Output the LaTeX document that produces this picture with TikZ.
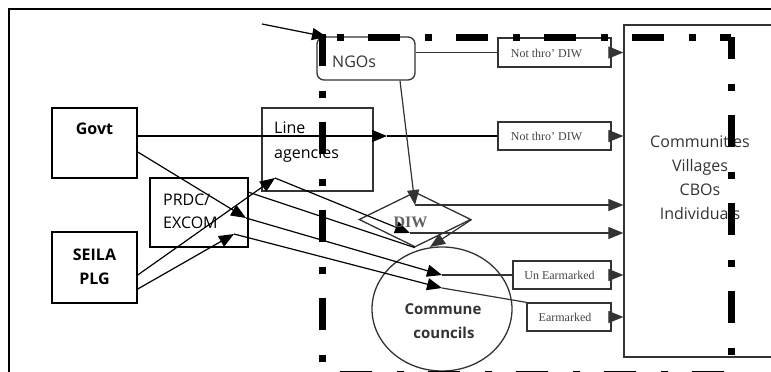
\documentclass[tikz,border=0pt]{standalone}
\usepackage{fontspec}
\setmainfont{Liberation Serif}
\newfontfamily\comic{Open Sans}
\usetikzlibrary{arrows.meta,shapes.geometric,calc}
\definecolor{ink}{HTML}{000000}
\definecolor{dk}{HTML}{333333}
\definecolor{tx}{HTML}{444444}
\begin{document}
\begin{tikzpicture}[x=1pt,y=-1pt,
  box/.style={draw=ink,line width=1.5pt,inner sep=0pt},
  gbox/.style={draw=dk,line width=1.3pt,inner sep=0pt},
  arr/.style={-{Triangle[length=15pt,width=12pt]},line width=1.2pt},
  garr/.style={arr,draw=dk,fill=dk},
  lbl/.style={font=\comic\fontsize{16}{19}\selectfont,inner sep=0pt,anchor=base},
  lblw/.style={lbl,anchor=base west},
  blbl/.style={font=\comic\bfseries\fontsize{16}{19}\selectfont,inner sep=0pt,anchor=base},
  slbl/.style={font=\fontsize{12}{14}\selectfont,text=tx,inner sep=0pt,anchor=base},
  dd/.style={line width=7pt,draw=ink,dash pattern=on 32pt off 25pt on 7pt off 24pt}]
\useasboundingbox (0,0) rectangle (771,372);
\clip (0,0) rectangle (771,372);
% outer frame
\draw[line width=1.5pt] (9,380) -- (9,9) -- (780,9);
% boxes
\node[box,minimum width=85pt,minimum height=70pt] (govt) at (94.5,143) {};
\node[box,minimum width=85pt,minimum height=71pt] (seila) at (94.5,267.5) {};
\node[box,minimum width=98pt,minimum height=69pt] (prdc) at (199,212.5) {};
\node[gbox,minimum width=111pt,minimum height=83pt] (line) at (317.5,149.5) {};
\node[gbox,rounded corners=7pt,minimum width=98pt,minimum height=43pt] (ngo) at (366,58.5) {};
\node[gbox,minimum width=113pt,minimum height=29pt] (ntd1) at (554.5,52.5) {};
\node[gbox,minimum width=113pt,minimum height=28pt] (ntd2) at (554.5,136) {};
\node[gbox,minimum width=98pt,minimum height=28pt] (une) at (562,275) {};
\node[gbox,minimum width=84pt,minimum height=28pt] (ear) at (569,317) {};
\node[gbox,minimum width=156pt,minimum height=332pt] (comm) at (702,191) {};
\node[gbox,diamond,minimum width=112pt,minimum height=55pt] (diw) at (415,219.5) {};
\node[gbox,ellipse,minimum width=140pt,minimum height=124pt] (cc) at (442,309) {};
% connection points
\coordinate (free) at (262,24);
\coordinate (tNgo) at (327,37);
\coordinate (g1) at (387,136);
\coordinate (tA) at (275,178);
\coordinate (tG) at (246,218);
\coordinate (tS) at (234,234);
\coordinate (pB) at (248,192);
\coordinate (tD1) at (415,205);
\coordinate (tD2) at (410,233);
\coordinate (tC1) at (442,275);
\coordinate (tC2) at (442,288);
\coordinate (tCC) at (430,247);
% connectors
\draw[arr] (free) -- (tNgo);
\draw[gbox] (ntd1.west -| ngo.east) -- (ntd1.west);
\draw[garr] (ntd1.east) -- (ntd1.east -| comm.west);
\draw[arr] (ntd2.west -| govt.east) -- (g1);
\draw[line width=1.2pt] (g1) -- (ntd2.west);
\draw[garr] (ntd2.east) -- (ntd2.east -| comm.west);
\draw[arr] ($(govt.east)+(0,9)$) -- (tG);
\draw[arr] ($(seila.east)+(0,7.5)$) -- (tA);
\draw[arr] ($(seila.east)+(0,21.5)$) -- (tS);
\draw[arr] (tA) -- (tD2);
\draw[line width=1.2pt] (pB) -- (diw.south);
\draw[arr] (tG) -- (tC1);
\draw[arr] (tS) -- (tC2);
\draw[garr] ($(ngo.south)+(34,0)$) -- (tD1);
\draw[garr] (tD1) -- (tD1 -| comm.west);
\draw[garr] (tD2) -- (tD2 -| comm.west);
\draw[garr] (diw.east) -- (tCC);
\draw[draw=dk,line width=1.2pt] (tC1) -- (une.west);
\draw[garr] (une.east) -- (une.east -| comm.west);
\draw[draw=dk,line width=1.2pt] (tC2) -- (ear.north west);
\draw[garr] (ear.east) -- (ear.east -| comm.west);
% texts
\node[blbl] (govtT) at (94.5,134) {Govt};
\node[blbl] (seilaT) at (94.5,260) {SEILA};
\node[blbl] (plgT) at (94.5,284) {PLG};
\node[lblw] (prdcT) at (163,205) {PRDC/};
\node[lblw] (excomT) at (163,228) {EXCOM};
\node[lblw] (lineT) at (274,133) {Line};
\node[lblw] (agT) at (274,158) {agencies};
\node[lblw,text=dk] (ngoT) at (332,67) {NGOs};
\node[slbl] (ntd1T) at (546.5,57) {Not thro’ DIW};
\node[slbl] (ntd2T) at (546.5,140.5) {Not thro’ DIW};
\node[slbl] (uneT) at (559.5,279.5) {Un Earmarked};
\node[slbl] (earT) at (565,321.5) {Earmarked};
\node[font=\bfseries\fontsize{16}{18}\selectfont,text=tx!85,inner sep=0pt,anchor=base] (diwT) at (410.5,227) {DIW};
\node[blbl,text=dk,font=\comic\bfseries\fontsize{15}{18}\selectfont] (ccT1) at (443,314) {Commune};
\node[blbl,text=dk,font=\comic\bfseries\fontsize{15}{18}\selectfont] (ccT2) at (444,338) {councils};
\node[lbl,text=dk] (cm1) at (700,147) {Communities};
\node[lbl,text=dk] (cm2) at (700,171) {Villages};
\node[lbl,text=dk] (cm3) at (700,195) {CBOs};
\node[lbl,text=dk] (cm4) at (700,219) {Individuals};
% dash-dot boundary
\draw[dd,dash phase=42pt] (322,37) -- (731,37);
\draw[dd] (322,33.5) -- (322,380);
\draw[dd,dash phase=10pt] (731,37) -- (731,380);
\draw[dd,dash phase=70pt] (322,374) -- (731,374);
\end{tikzpicture}
\end{document}
